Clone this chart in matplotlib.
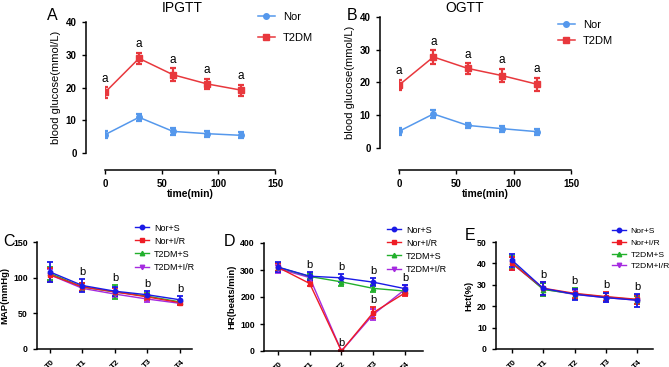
import numpy as np
import matplotlib.pyplot as plt
from matplotlib.lines import Line2D

plt.rcParams['font.family'] = ['Liberation Sans', 'DejaVu Sans']

W, H = 669, 367

# --- glucose tolerance data (A, B) ---
gtt_time = [0, 30, 60, 90, 120]
ipgtt_nor = [5.6, 10.9, 6.6, 5.9, 5.4]
ipgtt_nor_err = [1.0, 1.1, 1.0, 0.9, 0.9]
ipgtt_t2dm = [18.5, 28.9, 23.9, 21.1, 19.2]
ipgtt_t2dm_err = [1.6, 1.6, 2.0, 1.6, 1.7]
ogtt_nor = [5.1, 10.4, 6.9, 5.9, 5.0]
ogtt_nor_err = [1.0, 1.3, 0.8, 0.9, 0.9]
ogtt_t2dm = [19.2, 27.8, 24.3, 22.1, 19.5]
ogtt_t2dm_err = [1.6, 2.0, 1.6, 2.1, 2.0]

# --- haemodynamics (C, D, E) ---
stages = ['T0', 'T1', 'T2', 'T3', 'T4']
groups = ['Nor+S', 'Nor+I/R', 'T2DM+S', 'T2DM+I/R']
map_mean = [[108, 89, 81, 76, 69],
            [104, 87, 80, 73, 65],
            [106, 87, 80, 74, 66],
            [104, 85, 77, 70, 64]]
map_err = [[14, 9, 6, 5, 5],
           [10, 5, 5, 4, 3],
           [9, 5, 10, 4, 3],
           [8, 4, 4, 4, 3]]
hr_mean = [[311, 277, 271, 255, 231],
           [310, 250, 0, 142, 215],
           [310, 276, 256, 232, 222],
           [305, 272, 0, 135, 228]]
hr_err = [[20, 15, 15, 15, 12],
          [15, 10, 2, 20, 10],
          [15, 10, 15, 12, 8],
          [15, 18, 2, 20, 15]]
hct_mean = [[41.5, 28.3, 25.6, 24.0, 22.8],
            [40.0, 28.4, 26.0, 24.5, 23.2],
            [40.5, 27.8, 25.8, 24.3, 23.0],
            [40.0, 28.0, 25.5, 24.0, 22.8]]
hct_err = [[3, 3, 2.5, 2, 3],
           [3, 3, 2, 2, 2],
           [3, 3, 2.5, 2, 2],
           [3, 3, 2, 2, 2]]

grp_colors = ['#1a1ae6', '#ee1c25', '#22b02c', '#a52ae0']
grp_markers = ['o', 's', '^', 'v']
nor_color = '#5598ec'
t2dm_color = '#e8383d'


def px_axes(fig, left, right, bottom, top):
    return fig.add_axes([left / W, 1 - bottom / H, (right - left) / W, (bottom - top) / H])


def style(ax):
    for s in ['top', 'right']:
        ax.spines[s].set_visible(False)
    for s in ['left', 'bottom']:
        ax.spines[s].set_linewidth(1.1)
    ax.tick_params(width=1.0, length=3, direction='out')


fig = plt.figure(figsize=(W / 100, H / 100), dpi=100)


def gtt_panel(left, right, bottom, top, yout, xout, nor, nor_e, t2, t2_e, title, tx, letter, lx, legpos, lspace):
    ax = px_axes(fig, left, right, bottom, top)
    style(ax)
    ax.spines['left'].set_position(('outward', yout))
    ax.spines['bottom'].set_position(('outward', xout))
    ax.errorbar(gtt_time, nor, yerr=nor_e, color=nor_color, marker='o', ms=4,
                lw=1.1, elinewidth=1.6, capsize=2, capthick=1.6)
    ax.errorbar(gtt_time, t2, yerr=t2_e, color=t2dm_color, marker='s', ms=4,
                lw=1.1, elinewidth=1.6, capsize=2, capthick=1.6)
    for xi, m, e in zip(gtt_time, t2, t2_e):
        ax.text(xi, m + e + 0.8, 'a', ha='center', va='bottom', fontsize=8.5)
    ax.set_xlim(0, 150)
    ax.set_ylim(0, 40)
    ax.set_xticks([0, 50, 100, 150])
    ax.set_yticks([0, 10, 20, 30, 40])
    for t in ax.get_xticklabels() + ax.get_yticklabels():
        t.set_fontweight('bold')
        t.set_fontsize(7)
    ax.set_ylabel('blood glucose(mmol/L)', fontsize=8, labelpad=3)
    ax.set_xlabel('time(min)', fontsize=7.5, fontweight='bold', labelpad=0)
    fig.text(tx / W, 1 - 8 / H, title, ha='center', va='center', fontsize=10)
    fig.text(lx / W, 1 - 15 / H, letter, ha='center', va='center', fontsize=11.5)
    handles = [Line2D([], [], color=nor_color, marker='o', ms=4, lw=1.1),
               Line2D([], [], color=t2dm_color, marker='s', ms=4, lw=1.1)]
    ax.legend(handles, ['Nor', 'T2DM'], loc='upper left',
              bbox_to_anchor=(legpos[0] / W, 1 - legpos[1] / H),
              bbox_transform=fig.transFigure, frameon=False, fontsize=8,
              borderpad=0, handlelength=1.6, handletextpad=0.7, labelspacing=lspace)
    return ax


gtt_panel(105, 275, 153, 22, 14, 12, ipgtt_nor, ipgtt_nor_err, ipgtt_t2dm, ipgtt_t2dm_err,
          'IPGTT', 182, 'A', 52, (252, 6), 1.0)
gtt_panel(399, 571, 148, 17, 14, 16, ogtt_nor, ogtt_nor_err, ogtt_t2dm, ogtt_t2dm_err,
          'OGTT', 465, 'B', 352, (552, 14), 0.6)


def stage_panel(left, right, bottom, top, xlim, ylim, yticks, means, errs, ylabel, letter, lpos, legpos,
                extra=(), legsize=6.5):
    ax = px_axes(fig, left, right, bottom, top)
    style(ax)
    x = np.arange(len(stages))
    for i in reversed(range(len(groups))):
        ax.errorbar(x, means[i], yerr=errs[i], color=grp_colors[i], marker=grp_markers[i],
                    ms=3.2, lw=1.0, elinewidth=1.3, capsize=2, capthick=1.3)
    tops = np.max(np.array(means) + np.array(errs), axis=0)
    pad = (ylim[1] - ylim[0]) * 0.02
    for xi in x[1:]:
        ax.text(xi, tops[xi] + pad, 'b', ha='center', va='bottom', fontsize=8)
    for gi, xi in extra:
        ax.text(xi, means[gi][xi] + errs[gi][xi] + pad, 'b', ha='center', va='bottom', fontsize=8)
    ax.set_xlim(*xlim)
    ax.set_ylim(*ylim)
    ax.set_xticks(x)
    ax.set_xticklabels(stages, rotation=45, fontsize=6, fontweight='bold')
    ax.set_yticks(yticks)
    for t in ax.get_yticklabels():
        t.set_fontweight('bold')
        t.set_fontsize(6.3)
    ax.set_ylabel(ylabel, fontsize=6.8, fontweight='bold', labelpad=3)
    fig.text(lpos[0] / W, 1 - lpos[1] / H, letter, ha='center', va='center', fontsize=11.5)
    handles = [Line2D([], [], color=c, marker=m, ms=3.2, lw=1.0)
               for c, m in zip(grp_colors, grp_markers)]
    ax.legend(handles, groups, loc='upper left', bbox_to_anchor=(legpos[0] / W, 1 - legpos[1] / H),
              bbox_transform=fig.transFigure, frameon=False, fontsize=legsize,
              borderpad=0, handlelength=1.6, handletextpad=0.55, labelspacing=0.45)
    return ax


stage_panel(37, 192, 349, 242, (-0.4, 4.37), (0, 150), [0, 50, 100, 150], map_mean, map_err,
            'MAP(mmHg)', 'C', (9, 241), (130, 219))
stage_panel(264, 423, 351, 243, (-0.44, 4.57), (0, 400), [0, 100, 200, 300, 400], hr_mean, hr_err,
            'HR(beats/min)', 'D', (230, 241), (382, 221), extra=((1, 2), (1, 3)))
stage_panel(496, 653, 349, 242, (-0.51, 4.5), (0, 50), [0, 10, 20, 30, 40, 50], hct_mean, hct_err,
            'Hct(%)', 'E', (470, 235), (608, 223), legsize=6.1)

fig.savefig('out.png', dpi=100)
